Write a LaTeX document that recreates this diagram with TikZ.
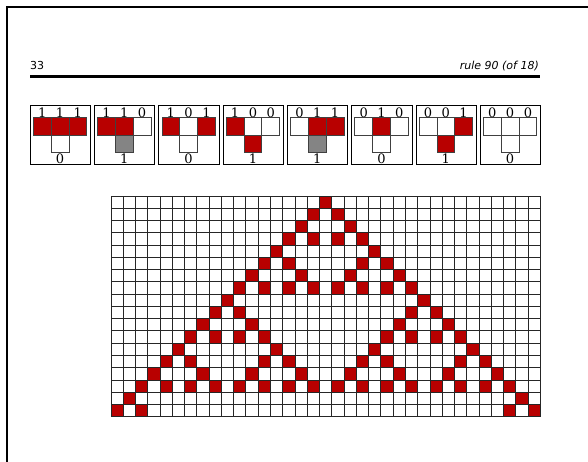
\documentclass[tikz,border=0pt]{standalone}
\usepackage{xcolor}
\usepackage{fontspec}
\setsansfont{DejaVu Sans}
\newfontfamily\bitfont{DejaVu Serif}
\usepackage{tikz}

\definecolor{cellred}{HTML}{B80000}
\definecolor{cellgray}{HTML}{848484}

\begin{document}
\begin{tikzpicture}[x=1pt,y=-1pt]
        \tikzset{frame/.style={line width=2pt, line cap=rect}}
        \tikzset{icon/.style={draw=black, line width=1pt}}
        \tikzset{bit/.style={draw=black!75, line width=0.8pt}}
        \tikzset{cell/.style={draw=black!85, line width=1pt}}
        \tikzset{digit/.style={inner sep=0pt, font=\bitfont\fontsize{13}{13}\selectfont}}
        \tikzset{head/.style={inner sep=0pt, font=\sffamily\fontsize{11}{13}\selectfont}}
        \useasboundingbox (0,0) rectangle (588,461);

	%---FRAME---
        \draw[frame] (6.5,462) -- (6.5,7) -- (589,7) ;

	%---HEADER---
        \node[head, anchor=base west] (page) at (30,69) {33};
        \node[head, anchor=base east] (title) at (539,69) {\itshape rule 90 (of 18)};
        \draw[line width=2.2pt] (30,76.5) -- (540,76.5) ;

	%---RULES---
        \foreach \i/\a/\b/\c/\o/\f in {0/1/1/1/0/white, 1/1/1/0/1/cellgray, 2/1/0/1/0/white, 3/1/0/0/1/cellred,
                                       4/0/1/1/1/cellgray, 5/0/1/0/0/white, 6/0/0/1/1/cellred, 7/0/0/0/0/white} {
          \begin{scope}[shift={(30.3+64.3*\i,105.3)}]
            \ifnum\a=1 \def\ca{cellred}\else\def\ca{white}\fi
            \ifnum\b=1 \def\cb{cellred}\else\def\cb{white}\fi
            \ifnum\c=1 \def\cc{cellred}\else\def\cc{white}\fi
            \draw[icon] (0,0) rectangle (60.3,59) ;
            \draw[bit, fill=\ca] (3,12) rectangle (20.8,29.7) ;
            \draw[bit, fill=\cb] (20.8,12) rectangle (38.6,29.7) ;
            \draw[bit, fill=\cc] (38.6,12) rectangle (56.4,29.7) ;
            \draw[bit, fill=\f] (20.8,29.7) rectangle (38.6,47.4) ;
            \node[digit, anchor=base] (l\i) at (11.9,11.8) {\a};
            \node[digit, anchor=base] (m\i) at (29.7,11.8) {\b};
            \node[digit, anchor=base] (r\i) at (47.5,11.8) {\c};
            \node[digit, anchor=base] (o\i) at (29.7,58) {\o};
          \end{scope}
        }

	%---GRID---
        \def\cs{12.27}
        \begin{scope}[shift={(111,196)}]
          \foreach \r/\cols in {0/{17}, 1/{16,18}, 2/{15,19}, 3/{14,16,18,20}, 4/{13,21}, 5/{12,14,20,22},
                                6/{11,15,19,23}, 7/{10,12,14,16,18,20,22,24}, 8/{9,25}, 9/{8,10,24,26},
                                10/{7,11,23,27}, 11/{6,8,10,12,22,24,26,28}, 12/{5,13,21,29},
                                13/{4,6,12,14,20,22,28,30}, 14/{3,7,11,15,19,23,27,31},
                                15/{2,4,6,8,10,12,14,16,18,20,22,24,26,28,30,32}, 16/{1,33}, 17/{0,2,32,34}} {
            \foreach \k in \cols
              \fill[cellred] (\k*\cs,\r*\cs) rectangle ++(\cs,\cs) ;
          }
          \foreach \k in {0,...,35}
            \draw[cell] (\k*\cs,0) -- (\k*\cs,18*\cs) ;
          \foreach \r in {0,...,18}
            \draw[cell] (0,\r*\cs) -- (35*\cs,\r*\cs) ;
        \end{scope}

\end{tikzpicture}
\end{document}
